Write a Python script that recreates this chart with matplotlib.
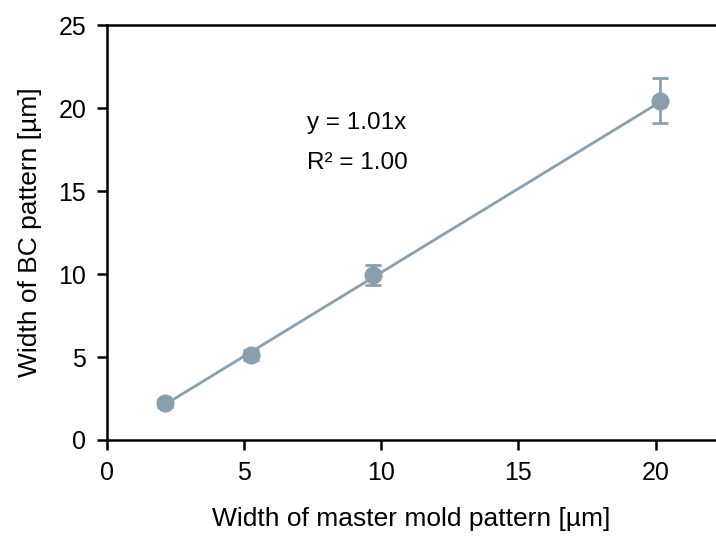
import numpy as np
import matplotlib
matplotlib.use("Agg")
import matplotlib.pyplot as plt

plt.rcParams["font.family"] = ["Liberation Sans", "DejaVu Sans"]

# data
master_width = [2.11, 5.25, 9.69, 20.15]
bc_width = [2.25, 5.12, 9.95, 20.45]
bc_err = [0.25, 0.3, 0.6, 1.35]

color = "#8a9fab"

fig = plt.figure(figsize=(7.16, 5.41), dpi=100)
ax = fig.add_axes([0.1494, 0.1867, 0.8506, 0.767])

# linear fit through origin
slope = 1.01
xs = np.array([master_width[0], master_width[-1]])
ax.plot(xs, slope * xs, color=color, lw=2, zorder=2)

ax.errorbar(master_width, bc_width, yerr=bc_err, fmt="o", color=color,
            ms=12, elinewidth=2, capsize=6, capthick=2, zorder=3)

ax.text(7.3, 19.1, "y = 1.01x", fontsize=17.5, va="center", ha="left")
ax.text(7.3, 16.7, "R² = 1.00", fontsize=17.5, va="center", ha="left")

ax.set_xlim(0, 22.2)
ax.set_ylim(0, 25)
ax.set_xticks([0, 5, 10, 15, 20])
ax.set_yticks([0, 5, 10, 15, 20, 25])

for s in ["left", "bottom", "top"]:
    ax.spines[s].set_linewidth(1.8)
ax.spines["right"].set_visible(False)

ax.tick_params(direction="out", length=7, width=1.8, labelsize=18, pad=8)
ax.set_xlabel("Width of master mold pattern [µm]", fontsize=19, labelpad=16)
ax.set_ylabel("Width of BC pattern [µm]", fontsize=19, labelpad=12)

fig.savefig("out.png", dpi=100, facecolor="white")
